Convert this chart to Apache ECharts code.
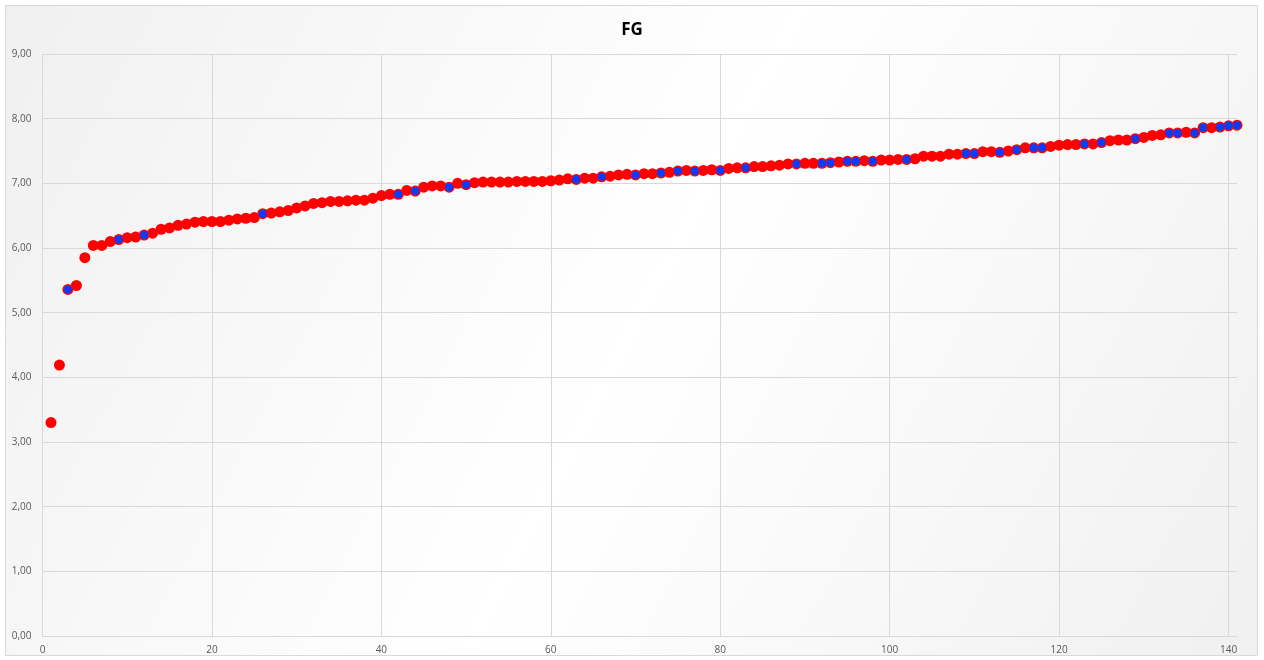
<!DOCTYPE html>
<html>
<head>
<meta charset="utf-8">
<script src="https://cdn.jsdelivr.net/npm/echarts@6/dist/echarts.min.js"></script>
<style>
html,body{margin:0;padding:0;background:#ffffff;}
#chart{width:1264px;height:660px;}
</style>
</head>
<body>
<div id="chart"></div>
<script>
// Data
var chartTitle = "FG";
var redX = [];
for (var i = 1; i <= 141; i++) redX.push(i);
var redY = [3.30,4.19,5.36,5.42,5.85,6.04,6.04,6.10,6.13,6.16,
            6.17,6.20,6.23,6.29,6.31,6.35,6.37,6.40,6.41,6.41,
            6.41,6.43,6.45,6.46,6.47,6.53,6.54,6.56,6.58,6.62,
            6.65,6.69,6.70,6.72,6.72,6.73,6.74,6.74,6.77,6.81,
            6.83,6.83,6.89,6.88,6.94,6.96,6.96,6.94,7.00,6.98,
            7.01,7.02,7.02,7.02,7.02,7.03,7.03,7.03,7.03,7.04,
            7.05,7.07,7.06,7.08,7.08,7.10,7.11,7.13,7.14,7.13,
            7.15,7.15,7.16,7.17,7.19,7.20,7.19,7.20,7.21,7.20,
            7.23,7.24,7.24,7.26,7.26,7.27,7.28,7.30,7.30,7.31,
            7.31,7.31,7.32,7.33,7.34,7.34,7.35,7.34,7.36,7.36,
            7.37,7.37,7.38,7.42,7.42,7.42,7.45,7.45,7.46,7.46,
            7.49,7.49,7.48,7.50,7.52,7.55,7.55,7.55,7.57,7.59,
            7.60,7.60,7.61,7.61,7.63,7.66,7.67,7.67,7.69,7.71,
            7.74,7.75,7.78,7.78,7.79,7.78,7.86,7.86,7.87,7.89,
            7.90];
var blueX = [3,9,12,26,42,44,48,50,63,66,70,73,75,77,80,83,89,92,93,95,96,98,102,
             109,110,113,115,117,118,123,125,129,133,134,136,137,139,140,141];
var blueY = [5.36,6.13,6.20,6.53,6.83,6.88,6.94,6.98,7.06,7.10,7.13,7.16,7.19,7.19,7.20,7.24,7.30,7.31,7.32,7.34,7.34,7.34,7.37,
             7.46,7.46,7.48,7.52,7.55,7.55,7.61,7.63,7.69,7.78,7.78,7.78,7.86,7.87,7.89,7.90];
var xTicks = [0,20,40,60,80,100,120,140];

var redData = redX.map(function(x, i){ return [x, redY[i]]; });
var blueData = blueX.map(function(x, i){ return [x, blueY[i]]; });

var chart = echarts.init(document.getElementById('chart'), null, {renderer:'canvas'});
var gridCol = '#d9d9d9';
var xLineColors = xTicks.map(function(){ return gridCol; }).concat(['rgba(0,0,0,0)']);

var option = {
  backgroundColor: '#ffffff',
  animation: false,
  graphic: [{
    type: 'rect',
    z: -10,
    silent: true,
    shape: {x: 5.5, y: 5.5, width: 1252, height: 650},
    style: {
      fill: new echarts.graphic.LinearGradient(0, 0, 1, 1, [
        {offset: 0, color: '#f0f0f0'},
        {offset: 0.5, color: '#ffffff'},
        {offset: 1, color: '#f0f0f0'}
      ]),
      stroke: '#d9d9d9',
      lineWidth: 1
    }
  }],
  title: {
    text: chartTitle,
    left: 'center',
    top: 17,
    textStyle: {fontFamily: 'Open Sans', fontWeight: 'bold', fontSize: 17, color: '#000000'}
  },
  grid: {left: 42.5, right: 27, top: 54, bottom: 24, containLabel: false},
  xAxis: {
    type: 'value',
    min: 0, max: 141, interval: 20,
    axisLine: {show: true, lineStyle: {color: gridCol, width: 1}},
    axisTick: {show: false},
    axisLabel: {
      showMaxLabel: false,
      color: '#595959', fontSize: 10, fontFamily: 'Open Sans', margin: 9
    },
    splitLine: {show: true, lineStyle: {color: xLineColors, width: 1}}
  },
  yAxis: {
    type: 'value',
    min: 0, max: 9, interval: 1,
    axisLine: {show: false},
    axisTick: {show: false},
    axisLabel: {
      color: '#595959', fontSize: 10, fontFamily: 'Open Sans', margin: 11,
      formatter: function(v){ return v.toFixed(2).replace('.', ','); }
    },
    splitLine: {show: true, lineStyle: {color: gridCol, width: 1}}
  },
  series: [
    {
      name: 'red', type: 'scatter', data: redData,
      symbol: 'circle', symbolSize: 11,
      itemStyle: {color: '#ff0000', opacity: 1},
      z: 2
    },
    {
      name: 'blue', type: 'scatter', data: blueData,
      symbol: 'circle', symbolSize: 8,
      itemStyle: {color: '#0a3cff', opacity: 1},
      z: 3
    }
  ]
};
chart.setOption(option);
</script>
</body>
</html>
